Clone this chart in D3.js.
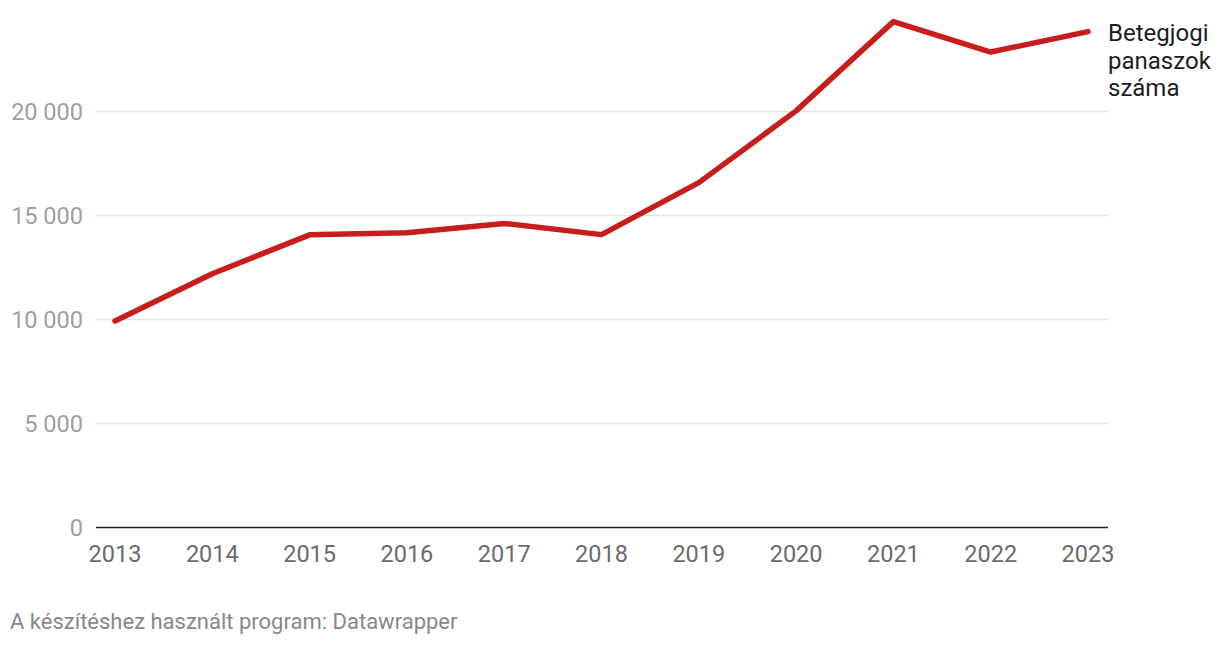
<!DOCTYPE html>
<html><head><meta charset="utf-8">
<script src="https://cdn.jsdelivr.net/npm/d3@7"></script>
<style>body{margin:0;background:#fff;font-family:Roboto,"Noto Sans",sans-serif;}</style>
</head><body><svg id="c" width="1220" height="646"></svg>
<script>
const years = [2013,2014,2015,2016,2017,2018,2019,2020,2021,2022,2023];
const complaints = [9930,12200,14070,14170,14620,14080,16580,20030,24320,22860,23840];
const yTicks = [0,5000,10000,15000,20000];
const seriesLabel = ["Betegjogi","panaszok","száma"];
const footer = "A készítéshez használt program: Datawrapper";

const svg = d3.select("#c");
const x = d3.scaleLinear().domain([2013,2023]).range([115,1088]);
const y = d3.scaleLinear().domain([0,20000]).range([527.5,111.5]);
const fmt = v => d3.format(",")(v).replace(/,/g," ");

const grid = svg.append("g");
yTicks.filter(t=>t>0).forEach(t=>{
  grid.append("line").attr("x1",96).attr("x2",1108).attr("y1",y(t)).attr("y2",y(t))
    .attr("stroke","#e3e3e3").attr("stroke-width",1.3);
});
yTicks.forEach(t=>{
  svg.append("text").attr("x",83).attr("y",y(t)).attr("dy","0.35em")
    .attr("text-anchor","end").attr("font-size",23.5).attr("fill","#a0a0a0").text(fmt(t));
});
svg.append("line").attr("x1",96).attr("x2",1108).attr("y1",y(0)).attr("y2",y(0))
  .attr("stroke","#222").attr("stroke-width",1.5);
years.forEach(yr=>{
  svg.append("text").attr("x",x(yr)).attr("y",554).attr("dy","0.35em")
    .attr("text-anchor","middle").attr("font-size",23.5).attr("fill","#6b6b6b").text(yr);
});
const line = d3.line().x((d,i)=>x(years[i])).y(d=>y(d));
svg.append("path").datum(complaints).attr("d",line).attr("fill","none")
  .attr("stroke","#c71e1d").attr("stroke-width",5.5).attr("stroke-linejoin","round").attr("stroke-linecap","round");
seriesLabel.forEach((s,i)=>{
  svg.append("text").attr("x",1108).attr("y",33+i*27.5).attr("dy","0.35em")
    .attr("font-size",24).attr("fill","#1d1d1d").text(s);
});
svg.append("text").attr("x",10).attr("y",621).attr("dy","0.35em")
  .attr("font-size",22).attr("fill","#888").text(footer);
</script></body></html>
